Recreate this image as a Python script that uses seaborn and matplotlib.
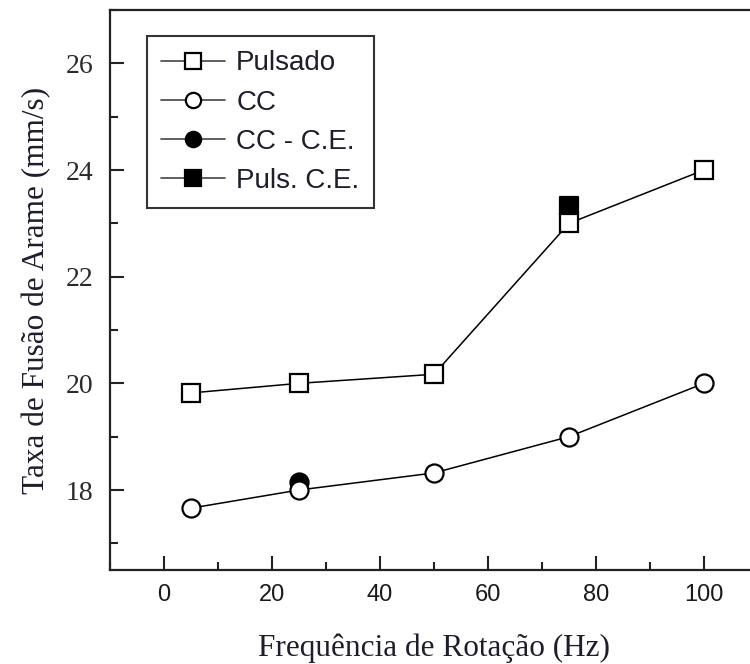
import matplotlib
matplotlib.use("Agg")
import matplotlib.pyplot as plt
from matplotlib.lines import Line2D
from matplotlib.ticker import MultipleLocator
import seaborn as sns
import pandas as pd

# Wire melting rate versus rotation frequency
freq = [5, 25, 50, 75, 100]
pulsado = [19.82, 20.0, 20.17, 23.0, 24.0]
cc = [17.66, 18.0, 18.32, 19.0, 20.0]

cc_ce_freq = [25]
cc_ce = [18.15]
puls_ce_freq = [75]
puls_ce = [23.33]

series_labels = ["Pulsado", "CC", "CC - C.E.", "Puls. C.E."]
x_ticks = [0, 20, 40, 60, 80, 100]
y_ticks = [18, 20, 22, 24, 26]
x_label = "Frequência de Rotação (Hz)"
y_label = "Taxa de Fusão de Arame (mm/s)"

sns.set_theme(style="ticks")
plt.rcParams["font.family"] = ["Liberation Serif", "DejaVu Serif"]

fig = plt.figure(figsize=(7.5, 6.64), dpi=100)
ax = fig.add_axes([110 / 750, 94 / 664, 648 / 750, 560 / 664])

df_main = pd.DataFrame({"freq": freq * 2,
                        "rate": pulsado + cc,
                        "serie": ["Pulsado"] * 5 + ["CC"] * 5})
df_extra = pd.DataFrame({"freq": cc_ce_freq + puls_ce_freq,
                         "rate": cc_ce + puls_ce,
                         "serie": ["CC - C.E.", "Puls. C.E."]})

ms = 13
mew = 1.6
# filled single points sit behind the open markers
sns.scatterplot(data=df_extra[df_extra.serie == "CC - C.E."], x="freq", y="rate",
                marker="o", s=ms ** 2, color="black", edgecolor="black",
                linewidth=mew, ax=ax, zorder=2, legend=False)
sns.scatterplot(data=df_extra[df_extra.serie == "Puls. C.E."], x="freq", y="rate",
                marker="s", s=ms ** 2, color="black", edgecolor="black",
                linewidth=mew, ax=ax, zorder=2, legend=False)

for name, mk in [("Pulsado", "s"), ("CC", "o")]:
    sns.lineplot(data=df_main[df_main.serie == name], x="freq", y="rate",
                 color="black", linewidth=1.1, marker=mk, markersize=ms,
                 markerfacecolor="white", markeredgecolor="black",
                 markeredgewidth=mew, ax=ax, zorder=3, legend=False)

ax.set_xlim(-10, 110)
ax.set_ylim(16.5, 27)
ax.set_xticks(x_ticks)
ax.set_yticks(y_ticks)
ax.xaxis.set_minor_locator(MultipleLocator(10))
ax.yaxis.set_minor_locator(MultipleLocator(1))
ax.tick_params(which="major", direction="in", length=10, width=1.5, color="#222222")
ax.tick_params(which="minor", direction="in", length=6, width=1.5, color="#222222")
ax.tick_params(axis="y", which="major", labelsize=20, pad=12, labelcolor="#2a2a2a")
ax.tick_params(axis="x", which="major", labelsize=17, pad=10, labelcolor="#1a1a1a")
for lab in ax.get_xticklabels():
    lab.set_family(["Liberation Sans", "DejaVu Sans"])
for sp in ax.spines.values():
    sp.set_linewidth(1.6)
    sp.set_color("#222222")

ax.set_xlabel(x_label, fontsize=22.5, color="#1d1d2b", labelpad=20)
ax.set_ylabel(y_label, fontsize=22.5, color="#1d1d2b", labelpad=10)

handles = [
    Line2D([], [], color="#444444", lw=1.2, marker="s", ms=11, mfc="white", mec="black", mew=1.6),
    Line2D([], [], color="#444444", lw=1.2, marker="o", ms=11, mfc="white", mec="black", mew=1.6),
    Line2D([], [], color="#444444", lw=1.2, marker="o", ms=11, mfc="black", mec="black", mew=1.6),
    Line2D([], [], color="#444444", lw=1.2, marker="s", ms=11, mfc="black", mec="black", mew=1.6),
]
leg = ax.legend(handles, series_labels, loc="upper left",
                bbox_to_anchor=(37 / 648, 534 / 560), borderaxespad=0,
                frameon=True, fancybox=False, edgecolor="black",
                prop={"family": ["Liberation Sans", "DejaVu Sans"], "size": 20},
                handlelength=2.27, handletextpad=0.42, labelspacing=0.47,
                borderpad=0.52, numpoints=1)
leg.get_frame().set_linewidth(1.5)
for t in leg.get_texts():
    t.set_color("#1d1d2b")

fig.savefig("out.png", dpi=100, facecolor="white")
